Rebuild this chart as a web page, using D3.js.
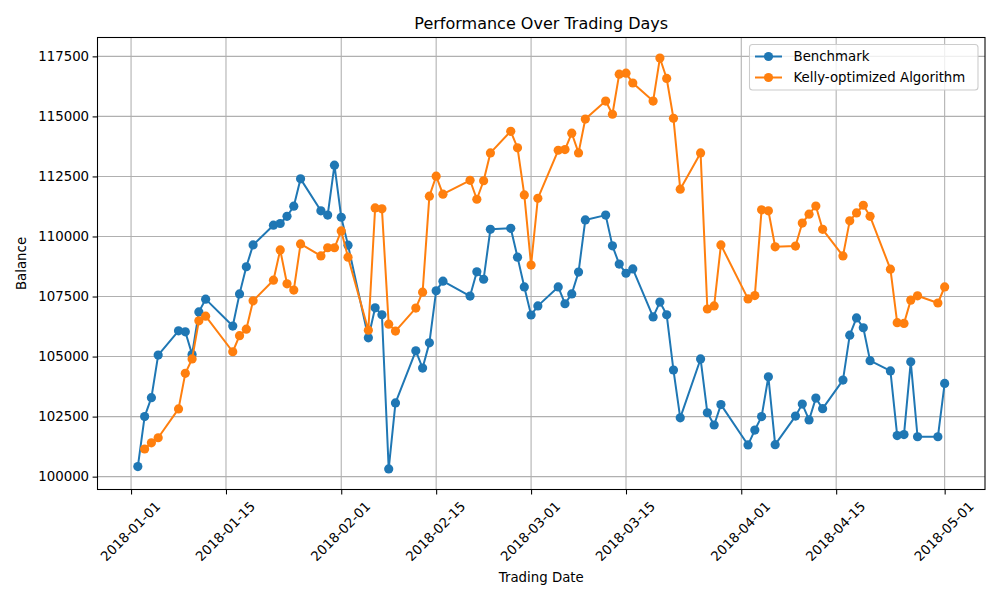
<!DOCTYPE html>
<html>
<head>
<meta charset="utf-8">
<script src="https://cdn.jsdelivr.net/npm/d3@7"></script>
<style>
  html, body { margin: 0; padding: 0; background: #fff; }
  svg { display: block; font-family: "DejaVu Sans", sans-serif; }
</style>
</head>
<body>
<svg id="chart" width="1000" height="600"></svg>
<script>
const tradingDates = [
  "2018-01-02","2018-01-03","2018-01-04","2018-01-05","2018-01-08","2018-01-09","2018-01-10","2018-01-11","2018-01-12",
  "2018-01-16","2018-01-17","2018-01-18","2018-01-19","2018-01-22","2018-01-23","2018-01-24","2018-01-25","2018-01-26",
  "2018-01-29","2018-01-30","2018-01-31","2018-02-01","2018-02-02","2018-02-05","2018-02-06","2018-02-07","2018-02-08",
  "2018-02-09","2018-02-12","2018-02-13","2018-02-14","2018-02-15","2018-02-16","2018-02-20","2018-02-21","2018-02-22",
  "2018-02-23","2018-02-26","2018-02-27","2018-02-28","2018-03-01","2018-03-02","2018-03-05","2018-03-06","2018-03-07",
  "2018-03-08","2018-03-09","2018-03-12","2018-03-13","2018-03-14","2018-03-15","2018-03-16","2018-03-19","2018-03-20",
  "2018-03-21","2018-03-22","2018-03-23","2018-03-26","2018-03-27","2018-03-28","2018-03-29","2018-04-02","2018-04-03",
  "2018-04-04","2018-04-05","2018-04-06","2018-04-09","2018-04-10","2018-04-11","2018-04-12","2018-04-13","2018-04-16",
  "2018-04-17","2018-04-18","2018-04-19","2018-04-20","2018-04-23","2018-04-24","2018-04-25","2018-04-26","2018-04-27",
  "2018-04-30","2018-05-01"
];

const benchmark = [
  100420,102500,103290,105060,106070,106030,105090,106860,107390,106270,
  107610,108740,109650,110470,110540,110840,111260,112400,111070,110890,
  112970,110800,109640,105780,107030,106740,100320,103070,105240,104520,
  105570,107740,108140,107520,108530,108220,110300,110340,109140,107900,
  106730,107110,107900,107200,107610,108520,110690,110890,109610,108850,
  108470,108650,106650,107270,106740,104440,102450,104900,102660,102150,
  103000,101320,101940,102500,104160,101330,102520,103020,102360,103270,
  102830,104020,105890,106610,106200,104830,104400,101710,101750,104780,
  101660,101660,103880
];

// Kelly series starts on the second trading date (2018-01-03)
const kellyStartIndex = 1;
const kelly = [
  101150,101410,101620,102820,104300,104900,106490,106680,105200,105870,
  106140,107320,108180,109440,108030,107770,109690,109190,109530,109530,
  110230,109140,106100,111190,111150,106350,106060,107020,107680,111680,
  112510,111760,112340,111550,112320,113480,114380,113690,111730,108810,
  111590,113590,113620,114300,113480,114890,115640,115090,116760,116800,
  116390,115640,117430,116580,114920,111970,113480,106980,107110,109650,
  107400,107540,111110,111070,109570,109600,110560,110930,111270,110300,
  109190,110650,110980,111300,110840,108640,106410,106380,107350,107530,
  107230,107900
];

const xTickLabels = ["2018-01-01","2018-01-15","2018-02-01","2018-02-15","2018-03-01","2018-03-15","2018-04-01","2018-04-15","2018-05-01"];
const yTickValues = [100000,102500,105000,107500,110000,112500,115000,117500];
const seriesNames = ["Benchmark","Kelly-optimized Algorithm"];
const seriesColors = ["#1f77b4","#ff7f0e"];

(function () {
const parse = d3.utcParse("%Y-%m-%d");
const fmt = d3.utcFormat("%Y-%m-%d");
const dates = tradingDates.map(parse);
const benchData = benchmark.map((v, i) => ({ date: dates[i], value: v }));
const kellyData = kelly.map((v, i) => ({ date: dates[i + kellyStartIndex], value: v }));

const svg = d3.select("#chart");
const pL = 97.5, pR = 985, pT = 37.5, pB = 489.5;

// matplotlib-like 5% margins
const xExt = d3.extent(dates);
const xPad = (xExt[1] - xExt[0]) * 0.05;
const allVals = benchmark.concat(kelly);
const yExt = d3.extent(allVals);
const yPad = (yExt[1] - yExt[0]) * 0.05;

const x = d3.scaleUtc()
  .domain([new Date(+xExt[0] - xPad), new Date(+xExt[1] + xPad)])
  .range([pL, pR]);
const y = d3.scaleLinear()
  .domain([yExt[0] - yPad, yExt[1] + yPad])
  .range([pB, pT]);

const xTicks = xTickLabels.map(parse);

// grid
const grid = svg.append("g");
grid.selectAll(".gx").data(xTicks).enter().append("line")
  .attr("x1", d => x(d)).attr("x2", d => x(d))
  .attr("y1", pT).attr("y2", pB)
  .attr("stroke", "#b0b0b0").attr("stroke-width", 1.07);
grid.selectAll(".gy").data(yTickValues).enter().append("line")
  .attr("x1", pL).attr("x2", pR)
  .attr("y1", d => y(d)).attr("y2", d => y(d))
  .attr("stroke", "#b0b0b0").attr("stroke-width", 1.07);

// lines
const line = d3.line().x(d => x(d.date)).y(d => y(d.value));
[benchData, kellyData].forEach((data, i) => {
  const g = svg.append("g");
  g.append("path").datum(data)
    .attr("d", line).attr("fill", "none")
    .attr("stroke", seriesColors[i]).attr("stroke-width", 2)
    .attr("stroke-linejoin", "round").attr("stroke-linecap", "square");
  g.selectAll("circle").data(data).enter().append("circle")
    .attr("cx", d => x(d.date)).attr("cy", d => y(d.value))
    .attr("r", 4.6).attr("fill", seriesColors[i]);
});

// axes frame
svg.append("rect")
  .attr("x", pL).attr("y", pT)
  .attr("width", pR - pL).attr("height", pB - pT)
  .attr("fill", "none").attr("stroke", "#000").attr("stroke-width", 1.07);

// x axis
const xAxis = d3.axisBottom(x).tickValues(xTicks).tickFormat(fmt).tickSizeOuter(0).tickSize(4.9).tickPadding(3.5);
const gx = svg.append("g").attr("transform", `translate(0,${pB})`).call(xAxis);
gx.select(".domain").remove();
gx.selectAll(".tick line").attr("stroke", "#000").attr("stroke-width", 1.07);
gx.selectAll(".tick text")
  .attr("font-size", "13.33px").attr("fill", "#000")
  .attr("font-family", "DejaVu Sans")
  .attr("text-anchor", "middle")
  .attr("dominant-baseline", "central")
  .attr("y", 0).attr("dy", null)
  .attr("transform", "translate(-1,42) rotate(-45)");

// y axis
const yAxis = d3.axisLeft(y).tickValues(yTickValues).tickFormat(d3.format("d")).tickSizeOuter(0).tickSize(4.9).tickPadding(3.5);
const gy = svg.append("g").attr("transform", `translate(${pL},0)`).call(yAxis);
gy.select(".domain").remove();
gy.selectAll(".tick line").attr("stroke", "#000").attr("stroke-width", 1.07);
gy.selectAll(".tick text")
  .attr("font-size", "13.33px").attr("fill", "#000")
  .attr("font-family", "DejaVu Sans");

// labels
svg.append("text").attr("x", (pL + pR) / 2).attr("y", 29)
  .attr("text-anchor", "middle").attr("font-size", "16px").attr("fill", "#000")
  .text("Performance Over Trading Days");
svg.append("text").attr("x", (pL + pR) / 2).attr("y", 582)
  .attr("text-anchor", "middle").attr("font-size", "13.33px").attr("fill", "#000")
  .text("Trading Date");
svg.append("text")
  .attr("transform", `translate(26,${(pT + pB) / 2}) rotate(-90)`)
  .attr("text-anchor", "middle").attr("font-size", "13.33px").attr("fill", "#000")
  .text("Balance");

// legend
const lg = svg.append("g");
lg.append("rect").attr("x", 749.5).attr("y", 44.5).attr("width", 228.5).attr("height", 45.5)
  .attr("rx", 3).attr("ry", 3)
  .attr("fill", "#fff").attr("fill-opacity", 0.8)
  .attr("stroke", "#cccccc").attr("stroke-width", 1.07);
seriesNames.forEach((name, i) => {
  const yy = 56.5 + i * 21;
  lg.append("line").attr("x1", 755).attr("x2", 782).attr("y1", yy).attr("y2", yy)
    .attr("stroke", seriesColors[i]).attr("stroke-width", 2);
  lg.append("circle").attr("cx", 768.5).attr("cy", yy).attr("r", 4.6).attr("fill", seriesColors[i]);
  lg.append("text").attr("x", 793.5).attr("y", yy).attr("dy", "0.35em")
    .attr("font-size", "13.33px").attr("fill", "#000").text(name);
});
})();
</script>
</body>
</html>
